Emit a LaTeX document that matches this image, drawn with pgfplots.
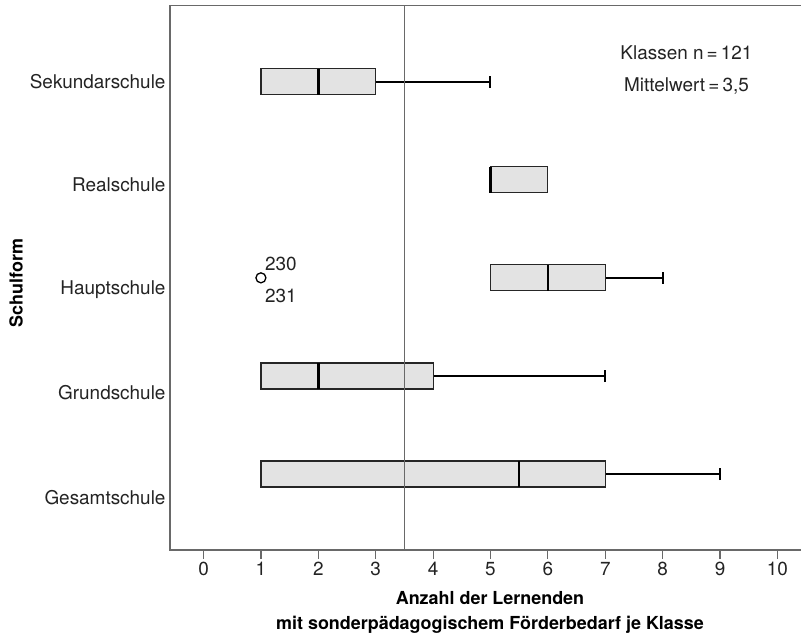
\documentclass[border=0pt]{standalone}
\usepackage{fontspec}
\setmainfont{TeX Gyre Heros}
\usepackage{pgfplots}
\pgfplotsset{compat=1.18}
\usepgfplotslibrary{statistics}
\definecolor{boxfill}{RGB}{227,227,227}
\definecolor{axisgray}{RGB}{105,105,105}
\definecolor{txt}{RGB}{35,35,35}

\begin{document}
\begin{tikzpicture}
\useasboundingbox (0,0) rectangle (801bp,635bp);
\begin{axis}[
    at={(170bp,85bp)}, anchor=south west,
    scale only axis, width=631bp, height=544.7bp,
    xmin=-0.584, xmax=10.41, ymin=0.225, ymax=5.779,
    clip=false,
    axis line style={draw=none},
    xtick={0,1,...,10},
    ytick={0.756,1.827,2.877,3.947,5},
    yticklabels={Gesamtschule,Grundschule,Hauptschule,Realschule,Sekundarschule},
    xtick pos=left, ytick pos=left,
    tick align=outside,
    major tick length=9bp,
    xtick style={draw=axisgray, line width=1.2bp},
    ytick style={draw=none},
    tick label style={font=\fontsize{19}{22}\selectfont, text=txt},
    yticklabel style={xshift=8bp},
    /pgf/number format/assume math mode=true,
    boxplot/draw direction=x,
    boxplot/box extend=0.265,
    boxplot/whisker extend=0.125,
    boxplot/every box/.style={draw=black!85, fill=boxfill, line width=1.2bp},
    boxplot/every median/.style={draw=black, line width=2.4bp},
    boxplot/every whisker/.style={draw=black, line width=2bp},
]

% Sekundarschule
\addplot[boxplot prepared={lower whisker=1, lower quartile=1, median=2,
    upper quartile=3, upper whisker=5, draw position=5},
    boxplot/draw/lower whisker/.code={}] coordinates {};
% Realschule
\addplot[boxplot prepared={lower whisker=5, lower quartile=5, median=5,
    upper quartile=6, upper whisker=6, draw position=4},
    boxplot/draw/lower whisker/.code={},
    boxplot/draw/upper whisker/.code={}] coordinates {};
% Hauptschule
\addplot[boxplot prepared={lower whisker=5, lower quartile=5, median=6,
    upper quartile=7, upper whisker=8, draw position=3},
    boxplot/draw/lower whisker/.code={}] coordinates {};
% Grundschule
\addplot[boxplot prepared={lower whisker=1, lower quartile=1, median=2,
    upper quartile=4, upper whisker=7, draw position=2},
    boxplot/draw/lower whisker/.code={}] coordinates {};
% Gesamtschule
\addplot[boxplot prepared={lower whisker=1, lower quartile=1, median=5.5,
    upper quartile=7, upper whisker=9, draw position=1},
    boxplot/draw/lower whisker/.code={}] coordinates {};

% Ausreisser Hauptschule
\addplot[only marks, mark=o, mark size=5bp, black, line width=1.3bp] coordinates {(1,3)};
\node[anchor=west, inner sep=0pt, font=\fontsize{19}{22}\selectfont, text=txt]
    at (axis cs:1,3) [xshift=4bp, yshift=14bp] {230};
\node[anchor=west, inner sep=0pt, font=\fontsize{19}{22}\selectfont, text=txt]
    at (axis cs:1,3) [xshift=4bp, yshift=-18bp] {231};

% Mittelwert
\addplot[axisgray, line width=1.2bp] coordinates {(3.5,0.225) (3.5,5.779)};

% Rahmen (ohne rechte Seite)
\draw[axisgray, line width=1.3bp] (rel axis cs:1,1) -- (rel axis cs:0,1)
    -- (rel axis cs:0,0) -- (rel axis cs:1,0);

\node[font=\fontsize{19}{22}\selectfont, text=txt] at (axis cs:8.415,5.293) {Klassen n\,=\,121};
\node[font=\fontsize{19}{22}\selectfont, text=txt] at (axis cs:8.415,4.956) {Mittelwert\,=\,3,5};
\end{axis}

\node[rotate=90, font=\fontsize{18}{21}\selectfont\bfseries, text=black] at (16bp,352bp) {Schulform};
\node[font=\fontsize{18}{21}\selectfont\bfseries, text=black] at (490bp,37bp) {Anzahl der Lernenden};
\node[font=\fontsize{18}{21}\selectfont\bfseries, text=black] at (490bp,10bp) {mit sonderpädagogischem Förderbedarf je Klasse};
\end{tikzpicture}
\end{document}
